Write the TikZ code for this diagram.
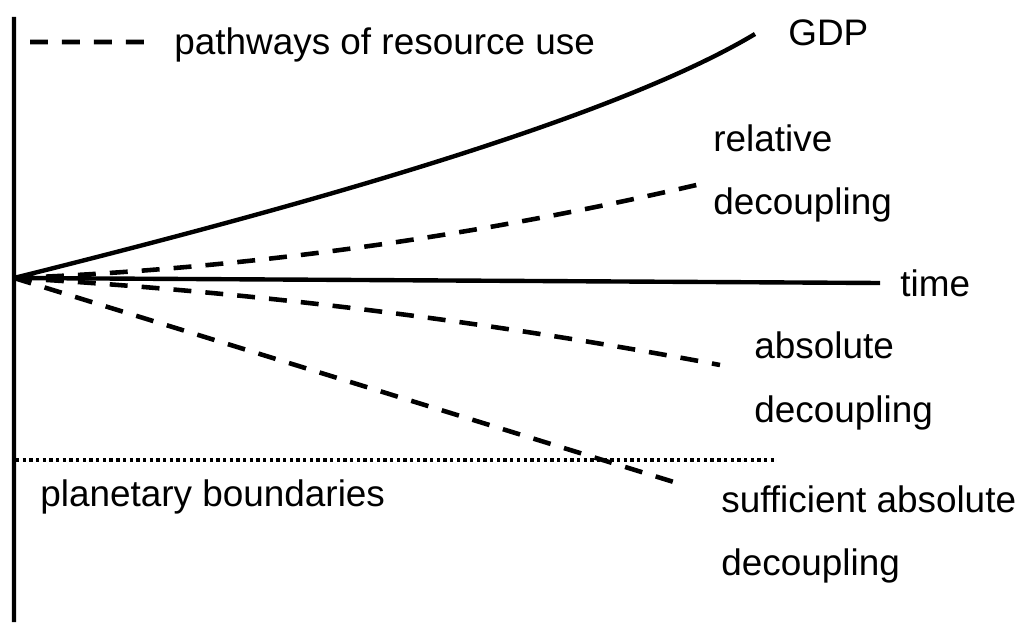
\documentclass[tikz,border=0pt]{standalone}
\usepackage{fontspec}
\setmainfont{Liberation Sans}
\usetikzlibrary{positioning}

\begin{document}
\begin{tikzpicture}[
	txt/.style={inner sep=0, anchor=base west, font=\fontsize{21}{25}\selectfont},
	axis/.style={line width=2.5pt},
	pathdash/.style={line width=2.6pt, dash pattern=on 10.2pt off 8pt},
	bound/.style={line width=2.4pt, dash pattern=on 1.9pt off 1.9pt}
]
	\useasboundingbox (-0.28,-6.88) rectangle (20.1,5.56);
	\path
		(0,0) coordinate (O)
		(0,5.22) coordinate (ytop)
		(0,-6.88) coordinate (ybot)
		(17.32,-0.1) coordinate (tend)
		(14.82,4.88) coordinate (gdp)
		(13.82,1.9) coordinate (rel)
		(14.12,-1.74) coordinate (abs)
		(13.26,-4.1) coordinate (suf)
		(0.04,-3.64) coordinate (pbl)
		(15.22,-3.64) coordinate (pbr)
		(0.32,4.72) coordinate (legl)
		(2.66,4.72) coordinate (legr)
	;

	% axes and GDP
	\draw[axis]
		(ytop) -- (ybot)
		(O) -- (tend)
		(O) .. controls (5,1.25) and (11.82,3.08) .. (gdp)
	;

	% pathways of resource use
	\draw[pathdash]
		(legl) -- (legr)
		(O) .. controls (4.61,0.18) and (9.21,0.82) .. (rel)
		(O) .. controls (4.71,-0.27) and (9.41,-0.85) .. (abs)
		(O) -- (suf)
	;
	\draw[bound] (pbl) -- (pbr);

	\path
		(3.2,4.46) node[txt](legtxt){pathways of resource use}
		(15.48,4.64) node[txt](gdptxt){GDP}
		(13.98,2.52) node[txt](rel1){relative}
		(17.72,-0.36) node[txt](timetxt){time}
		(14.8,-1.6) node[txt](abs1){absolute}
		(0.52,-4.56) node[txt](pbtxt){planetary boundaries}
		(14.14,-4.68) node[txt](suf1){sufficient absolute}
	;
	\node[txt, below=1.26cm of rel1.base west, anchor=base west](rel2){decoupling};
	\node[txt, below=1.28cm of abs1.base west, anchor=base west](abs2){decoupling};
	\node[txt, below=1.26cm of suf1.base west, anchor=base west](suf2){decoupling};
\end{tikzpicture}
\end{document}
